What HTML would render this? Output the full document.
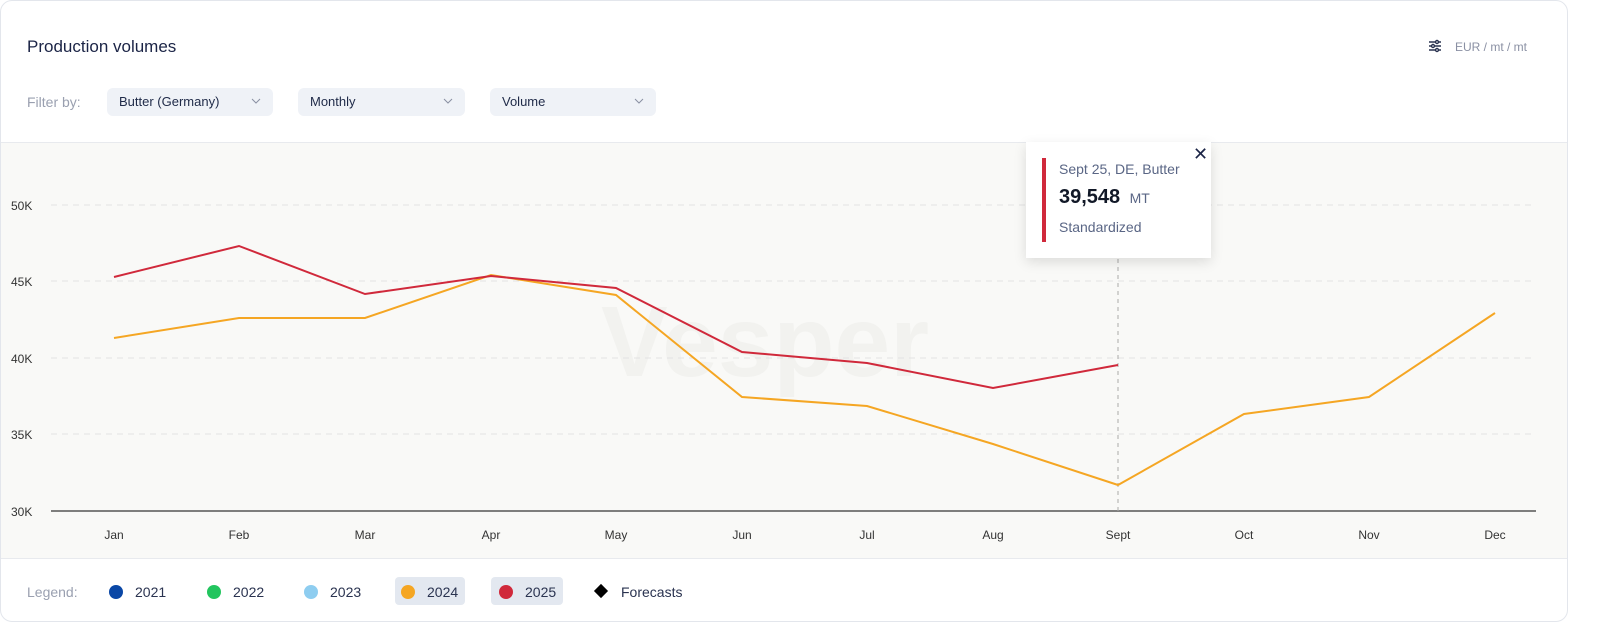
<!DOCTYPE html>
<html><head><meta charset="utf-8"><style>
body{margin:0;width:1600px;height:636px;background:#fff;font-family:"Liberation Sans",sans-serif;overflow:hidden;position:relative}
.card{position:absolute;left:0;top:0;width:1566px;height:620px;border:1px solid #e3e6ec;border-radius:12px;overflow:hidden;background:#fff}
.t{position:absolute;white-space:nowrap}
.sel{position:absolute;top:87px;height:28px;background:#eff2f7;border-radius:6px;font-size:13px;color:#1f2a48;line-height:28px;padding-left:12px;box-sizing:border-box}
.sel svg{position:absolute;right:12px;top:10px}
.chart{position:absolute;left:0;top:141px;width:1566px;height:415px;background:#f9f9f7;border-top:1px solid #e8eaee;border-bottom:1px solid #e8eaee}
.lg{position:absolute;top:577px;height:28px;line-height:28px;font-size:14px;color:#2a3350}
.box{position:absolute;top:576px;height:28px;background:#e3e8f0;border-radius:4px}
.dot{position:absolute;top:584px;width:14px;height:14px;border-radius:50%}
</style></head><body>
<div class="card">
<div class="t" style="left:26px;top:36px;font-size:17px;color:#1b2446">Production volumes</div>
<svg class="t" style="left:1427px;top:38px" width="14" height="14" viewBox="0 0 14 14" stroke="#2a3350" stroke-width="1.4" fill="none"><line x1="1" y1="3" x2="13" y2="3"/><line x1="1" y1="7" x2="13" y2="7"/><line x1="1" y1="11" x2="13" y2="11"/><circle cx="9" cy="3" r="1.5" fill="#fff"/><circle cx="5" cy="7" r="1.5" fill="#fff"/><circle cx="9" cy="11" r="1.5" fill="#fff"/></svg>
<div class="t" style="left:1454px;top:39px;font-size:12px;color:#8a90a3">EUR / mt / mt</div>
<div class="t" style="left:26px;top:93px;font-size:14px;color:#9aa0b0">Filter by:</div>
<div class="sel" style="left:106px;width:166px">Butter (Germany)<svg width="10" height="6"><path d="M1 1l4 4 4-4" stroke="#8a90a3" fill="none"/></svg></div>
<div class="sel" style="left:297px;width:167px">Monthly<svg width="10" height="6"><path d="M1 1l4 4 4-4" stroke="#8a90a3" fill="none"/></svg></div>
<div class="sel" style="left:489px;width:166px">Volume<svg width="10" height="6"><path d="M1 1l4 4 4-4" stroke="#8a90a3" fill="none"/></svg></div>
<div class="chart"></div>
<svg class="t" style="left:0;top:0" width="1566" height="560">
<text x="600" y="375" font-size="100" font-weight="bold" fill="#f2f2ef" font-family="Liberation Sans">Vesper</text>
<g stroke="#e3e3e3" stroke-dasharray="6,5" stroke-width="1">
<line x1="50" y1="204" x2="1535" y2="204"/><line x1="50" y1="280" x2="1535" y2="280"/><line x1="50" y1="357" x2="1535" y2="357"/><line x1="50" y1="433" x2="1535" y2="433"/></g>
<line x1="50" y1="510" x2="1535" y2="510" stroke="#555" stroke-width="1.5"/>
<line x1="1117" y1="250" x2="1117" y2="510" stroke="#aaa" stroke-dasharray="4,4"/>
<g font-size="12" fill="#333"><text x="10" y="209">50K</text><text x="10" y="285">45K</text><text x="10" y="362">40K</text><text x="10" y="438">35K</text><text x="10" y="515">30K</text></g>
<g font-size="12" fill="#333" text-anchor="middle"><text x="113" y="538">Jan</text><text x="238" y="538">Feb</text><text x="364" y="538">Mar</text><text x="490" y="538">Apr</text><text x="615" y="538">May</text><text x="741" y="538">Jun</text><text x="866" y="538">Jul</text><text x="992" y="538">Aug</text><text x="1117" y="538">Sept</text><text x="1243" y="538">Oct</text><text x="1368" y="538">Nov</text><text x="1494" y="538">Dec</text></g>
<polyline fill="none" stroke="#f5a623" stroke-width="2" points="113,337 238,317 364,317 490,274 615,294 741,396 866,405 992,443 1117,484 1243,413 1368,396 1494,312"/>
<polyline fill="none" stroke="#d0293b" stroke-width="2" points="113,276 238,245 364,293 490,275 615,287 741,351 866,362 992,387 1117,364"/>
</svg>
<div class="t" style="left:1025px;top:141px;width:185px;height:116px;background:#fff;box-shadow:0 4px 12px rgba(0,0,0,.12)">
<div class="t" style="left:16px;top:16px;width:4px;height:84px;background:#d0293b"></div>
<div class="t" style="left:33px;top:19px;font-size:14px;color:#5a6685">Sept 25, DE, Butter</div>
<div class="t" style="left:33px;top:44px;font-size:20px;font-weight:bold;color:#111827">39,548 <span style="font-size:14px;font-weight:normal;color:#5a6685">&nbsp;MT</span></div>
<div class="t" style="left:33px;top:77px;font-size:14px;color:#5a6685">Standardized</div>
<div class="t" style="left:167px;top:2px;font-size:18px;color:#1b2446">✕</div>
</div>
<div class="lg" style="left:26px;color:#9aa0b0">Legend:</div>
<div class="box" style="left:394px;width:70px"></div>
<div class="box" style="left:490px;width:72px"></div>
<div class="dot" style="left:108px;background:#0a47a6"></div><div class="lg" style="left:134px">2021</div>
<div class="dot" style="left:206px;background:#22c55e"></div><div class="lg" style="left:232px">2022</div>
<div class="dot" style="left:303px;background:#8ecdf0"></div><div class="lg" style="left:329px">2023</div>
<div class="dot" style="left:400px;background:#f5a623"></div><div class="lg" style="left:426px">2024</div>
<div class="dot" style="left:498px;background:#d0293b"></div><div class="lg" style="left:524px">2025</div>
<div class="t" style="left:595px;top:585px;width:10px;height:10px;background:#000;transform:rotate(45deg)"></div><div class="lg" style="left:620px">Forecasts</div>
</div>
</body></html>
